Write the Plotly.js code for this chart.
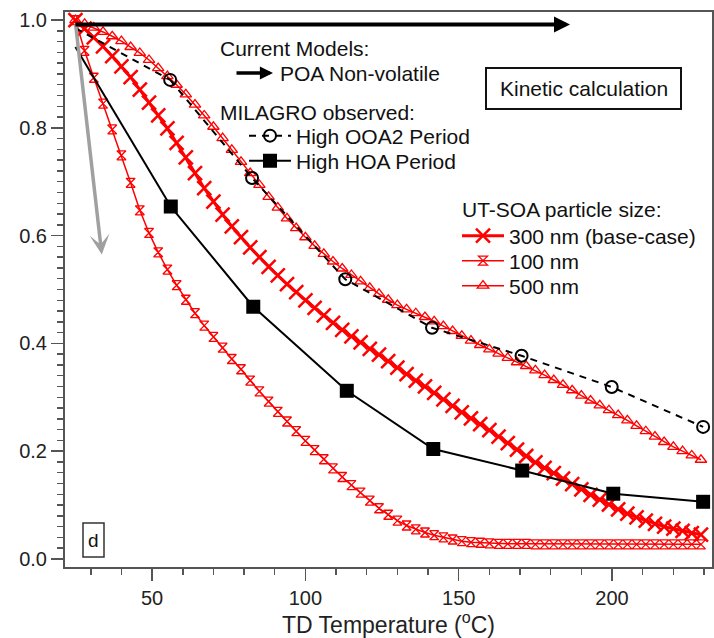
<!DOCTYPE html>
<html>
<head>
<meta charset="utf-8">
<script src="https://cdn.plot.ly/plotly-3.0.1.min.js"></script>
<style>html,body{margin:0;padding:0;background:#fff;}#chart{width:714px;height:638px;}</style>
</head>
<body>
<div id="chart"></div>
<script>
// ---- data ----
var modelTemps = [25,28,31,34,37,40,43,46,49,52,55,58,61,64,67,70,73,76,79,82,85,88,91,94,97,100,103,106,109,112,115,118,121,124,127,130,133,136,139,142,145,148,151,154,157,160,163,166,169,172,175,178,181,184,187,190,193,196,199,202,205,208,211,214,217,220,223,226,229];
var soa300 = [1.000,0.984,0.968,0.951,0.933,0.914,0.894,0.871,0.847,0.823,0.799,0.772,0.745,0.716,0.688,0.663,0.639,0.617,0.597,0.578,0.560,0.542,0.526,0.510,0.495,0.480,0.466,0.452,0.438,0.425,0.413,0.402,0.390,0.379,0.367,0.355,0.343,0.331,0.320,0.308,0.296,0.284,0.272,0.261,0.250,0.239,0.227,0.215,0.203,0.191,0.179,0.169,0.159,0.149,0.139,0.129,0.119,0.110,0.101,0.092,0.084,0.077,0.071,0.065,0.060,0.056,0.052,0.048,0.045];
var soa100 = [1.000,0.943,0.893,0.845,0.797,0.749,0.698,0.647,0.605,0.569,0.537,0.508,0.481,0.456,0.433,0.412,0.392,0.371,0.352,0.331,0.311,0.292,0.273,0.255,0.237,0.219,0.202,0.185,0.168,0.152,0.137,0.123,0.108,0.094,0.082,0.071,0.062,0.055,0.049,0.044,0.040,0.036,0.033,0.031,0.030,0.029,0.028,0.028,0.028,0.028,0.027,0.027,0.027,0.027,0.027,0.027,0.027,0.027,0.027,0.027,0.027,0.027,0.027,0.027,0.027,0.027,0.027,0.027,0.027];
var soa500 = [1.000,0.993,0.986,0.978,0.970,0.961,0.950,0.939,0.926,0.911,0.896,0.880,0.862,0.843,0.823,0.802,0.781,0.759,0.737,0.716,0.694,0.672,0.652,0.632,0.614,0.597,0.581,0.566,0.552,0.539,0.527,0.515,0.503,0.492,0.481,0.471,0.463,0.456,0.449,0.441,0.432,0.423,0.414,0.405,0.397,0.389,0.381,0.373,0.365,0.358,0.350,0.341,0.332,0.323,0.313,0.303,0.294,0.285,0.276,0.267,0.257,0.247,0.237,0.227,0.217,0.208,0.200,0.192,0.184];
var ooa2Temps = [25,55.9,82.6,113,141.3,170.5,199.9,229.7];
var ooa2Frac  = [0.985,0.889,0.707,0.519,0.429,0.377,0.319,0.245];
var hoaTemps  = [25,56.1,83.0,113.5,141.7,170.7,200.4,229.7];
var hoaFrac   = [0.950,0.654,0.468,0.312,0.204,0.164,0.121,0.106];
// arrows: [tail, head]
var poaArrowT = [24.5, 186.3];
var poaArrowF = [0.992, 0.992];
var grayArrowT = [25, 33.6];
var grayArrowF = [0.995, 0.565];
var xTickVals = [50,100,150,200];
var yTickVals = [0.0,0.2,0.4,0.6,0.8,1.0];
var labels = {
  ooa2: 'High OOA2 Period', hoa: 'High HOA Period',
  s300: '300 nm (base-case)', s100: '100 nm', s500: '500 nm',
  current: 'Current Models:', poa: 'POA Non-volatile',
  milagro: 'MILAGRO observed:', utsoa: 'UT-SOA particle size:',
  kinetic: 'Kinetic calculation', panel: 'd',
  xtitle: 'TD Temperature (<sup>o</sup>C)'
};

// ---- layout helpers (pixel -> paper) ----
var W = 714, H = 638, ML = 65, MR = 2, MT = 12, MB = 71;
var PW = W - ML - MR, PH = H - MT - MB;
function px(x){ return (x - ML) / PW; }
function py(y){ return (H - MB - y) / PH; }
var FONT = 'Arial, "Liberation Sans", sans-serif';
var RED = '#ff0000';

var traces = [
  {x: modelTemps, y: soa100, name: labels.s100, mode: 'lines+markers', legend: 'legend4',
   line: {color: RED, width: 1.5}, marker: {symbol: 'hourglass-open', size: 9, color: RED, line: {color: RED, width: 1.3}}},
  {x: modelTemps, y: soa500, name: labels.s500, mode: 'lines+markers', legend: 'legend5',
   line: {color: RED, width: 1.5}, marker: {symbol: 'triangle-up-open', size: 10, color: RED, line: {color: RED, width: 1.3}}},
  {x: modelTemps, y: soa300, name: labels.s300, mode: 'lines+markers', legend: 'legend3',
   line: {color: RED, width: 3}, marker: {symbol: 'x-thin-open', size: 14, color: RED, line: {color: RED, width: 2.5}}},
  // observed series: the first segment (from the ambient point) carries no marker
  {x: ooa2Temps.slice(0, 2), y: ooa2Frac.slice(0, 2), mode: 'lines', showlegend: false, hoverinfo: 'skip',
   line: {color: '#000', width: 2, dash: '7px,6px'}},
  {x: ooa2Temps.slice(1), y: ooa2Frac.slice(1), name: labels.ooa2, mode: 'lines+markers', legend: 'legend',
   line: {color: '#000', width: 2, dash: '7px,6px'},
   marker: {symbol: 'circle-open', size: 12, color: '#000', line: {color: '#000', width: 2}}},
  {x: hoaTemps.slice(0, 2), y: hoaFrac.slice(0, 2), mode: 'lines', showlegend: false, hoverinfo: 'skip',
   line: {color: '#000', width: 2}},
  {x: hoaTemps.slice(1), y: hoaFrac.slice(1), name: labels.hoa, mode: 'lines+markers', legend: 'legend2',
   line: {color: '#000', width: 2}, marker: {symbol: 'square', size: 14, color: '#000', line: {color: '#000', width: 0}}}
];

function leg(x, yc){
  return {x: px(x), y: py(yc), xanchor: 'left', yanchor: 'middle', bgcolor: 'rgba(0,0,0,0)',
          borderwidth: 0, font: {family: FONT, size: 21, color: '#111'}, itemwidth: 42};
}

var annFont = {family: FONT, size: 21, color: '#111'};
var layout = {
  width: W, height: H,
  margin: {l: ML, r: MR, t: MT, b: MB, pad: 0},
  paper_bgcolor: '#fff', plot_bgcolor: '#fff',
  font: {family: FONT, color: '#111'},
  showlegend: true,
  legend: leg(244, 136), legend2: leg(244, 161),
  legend3: leg(457, 236), legend4: leg(457, 261), legend5: leg(457, 286),
  xaxis: {range: [21.6, 232.6], tickvals: xTickVals, ticks: 'outside', ticklen: 12, tickwidth: 1.5,
          tickcolor: '#555', showline: true, linecolor: '#555', linewidth: 2, mirror: true,
          showgrid: false, zeroline: false, tickfont: {family: FONT, size: 20, color: '#222'},
          minor: {dtick: 10, tick0: 0, ticks: 'outside', ticklen: 6, tickwidth: 1.5, tickcolor: '#555', showgrid: false},
          title: {text: labels.xtitle, font: {family: FONT, size: 23, color: '#222'}, standoff: 4}},
  yaxis: {range: [-0.015, 1.015], tickvals: yTickVals, tickformat: '.1f', ticks: 'outside', ticklen: 12, tickwidth: 1.5,
          tickcolor: '#555', showline: true, linecolor: '#555', linewidth: 2, mirror: true,
          showgrid: false, zeroline: false, tickfont: {family: FONT, size: 20, color: '#222'},
          minor: {dtick: 0.02, tick0: 0, ticks: 'outside', ticklen: 6, tickwidth: 1.5, tickcolor: '#555', showgrid: false}},
  shapes: [
    {type: 'rect', xref: 'paper', yref: 'paper', x0: px(486), x1: px(681), y0: py(109), y1: py(68),
     line: {color: '#111', width: 2}, fillcolor: 'rgba(0,0,0,0)'},
    {type: 'rect', xref: 'paper', yref: 'paper', x0: px(83), x1: px(104), y0: py(557), y1: py(523),
     line: {color: '#333', width: 1.5}, fillcolor: 'rgba(0,0,0,0)'}
  ],
  annotations: [
    // gray arrow
    {x: grayArrowT[1], y: grayArrowF[1], ax: grayArrowT[0], ay: grayArrowF[0], xref: 'x', yref: 'y', axref: 'x', ayref: 'y',
     text: '', showarrow: true, arrowcolor: '#a0a0a0', arrowwidth: 3.5, arrowhead: 3, arrowsize: 0.95, standoff: 0, startstandoff: 0},
    // POA non-volatile arrow
    {x: poaArrowT[1], y: poaArrowF[1], ax: poaArrowT[0], ay: poaArrowF[0], xref: 'x', yref: 'y', axref: 'x', ayref: 'y',
     text: '', showarrow: true, arrowcolor: '#000', arrowwidth: 4, arrowhead: 2, arrowsize: 0.8, standoff: 0, startstandoff: 0},
    // legend-style arrow sample
    {x: px(273), y: py(73), xref: 'paper', yref: 'paper', ax: -38, ay: 0, text: '', showarrow: true,
     arrowcolor: '#000', arrowwidth: 3.5, arrowhead: 2, arrowsize: 0.75, standoff: 0, startstandoff: 0},
    {x: px(218), y: py(48), xref: 'paper', yref: 'paper', xanchor: 'left', yanchor: 'middle', showarrow: false, text: labels.current, font: annFont},
    {x: px(278), y: py(73), xref: 'paper', yref: 'paper', xanchor: 'left', yanchor: 'middle', showarrow: false, text: labels.poa, font: annFont},
    {x: px(218), y: py(112), xref: 'paper', yref: 'paper', xanchor: 'left', yanchor: 'middle', showarrow: false, text: labels.milagro, font: annFont},
    {x: px(460), y: py(209), xref: 'paper', yref: 'paper', xanchor: 'left', yanchor: 'middle', showarrow: false, text: labels.utsoa, font: annFont},
    {x: px(583.5), y: py(88.5), xref: 'paper', yref: 'paper', xanchor: 'center', yanchor: 'middle', showarrow: false, text: labels.kinetic, font: annFont},
    {x: px(93.5), y: py(540), xref: 'paper', yref: 'paper', xanchor: 'center', yanchor: 'middle', showarrow: false, text: labels.panel,
     font: {family: FONT, size: 19, color: '#111'}}
  ]
};

Plotly.newPlot('chart', traces, layout, {displayModeBar: false, staticPlot: true});
</script>
</body>
</html>
